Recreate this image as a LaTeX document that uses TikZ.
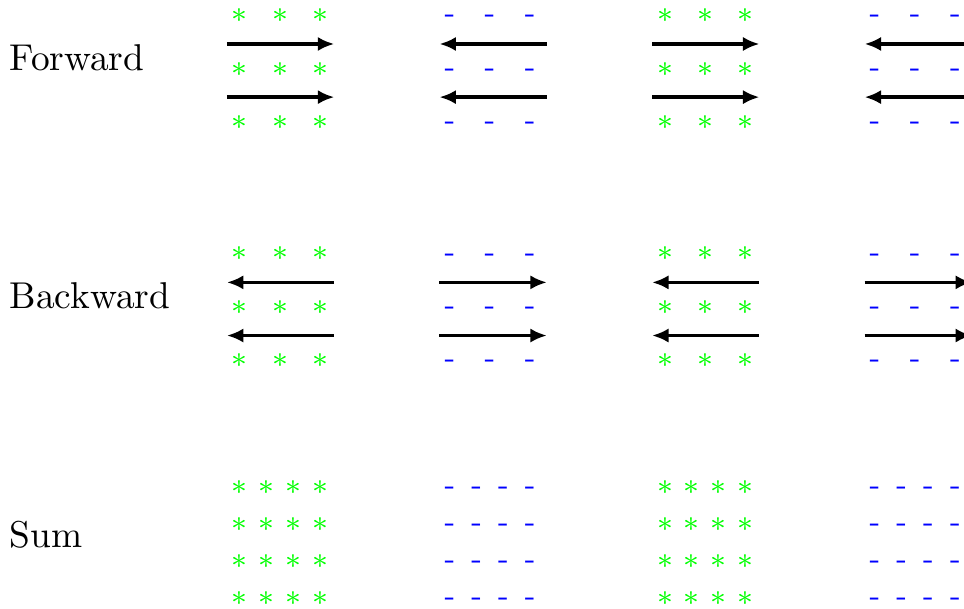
\documentclass[tikz,border=0pt]{standalone}
\usetikzlibrary{arrows.meta}
\begin{document}
\begin{tikzpicture}[>={Latex[length=4.4pt,width=3.8pt]},
  flow/.style={line width=1pt},
  lbl/.style={anchor=base west,inner sep=0pt},
  plus/.style={text=green,font=\footnotesize,inner sep=0pt},
  minus/.style={text=blue,font=\footnotesize,inner sep=0pt,yshift=-0.9pt}]
\useasboundingbox (0,0) rectangle (9.07,-5.73);
\node[lbl] (fwd) at (0.085,-0.668) {Forward};
\node[lbl] (bwd) at (0.085,-2.907) {Backward};
\node[lbl] (sum) at (0.085,-5.155) {Sum};
\foreach \c/\s/\sx/\m/\fa/\ba in {0/plus/2.257/{$\ast$}/->/<-, 1/minus/4.232/{-}/<-/->,
    2/plus/6.257/{$\ast$}/->/<-, 3/minus/8.232/{-}/<-/->} {
  \pgfmathsetmacro{\ax}{2.135+2*\c}
  \foreach \j in {0,1,2} {
    \foreach \i in {0,1,2} {
      \node[\s] (f-\c-\j-\i) at ({\sx+0.378*\i},{-0.15-0.5*\j}) {\m};
      \node[\s] (b-\c-\j-\i) at ({\sx+0.378*\i},{-2.39-0.5*\j}) {\m};
    }
  }
  \foreach \j in {0,1} {
    \draw[flow,\fa] (\ax,{-0.414-0.5*\j}) -- ++(1.01,0);
    \draw[flow,\ba] (\ax,{-2.657-0.5*\j}) -- ++(1.01,0);
  }
  \foreach \j in {0,1,2,3}
    \foreach \i in {0,1,2,3}
      \node[\s] (s-\c-\j-\i) at ({\sx+0.252*\i},{-4.59-0.348*\j}) {\m};
}
\end{tikzpicture}
\end{document}
